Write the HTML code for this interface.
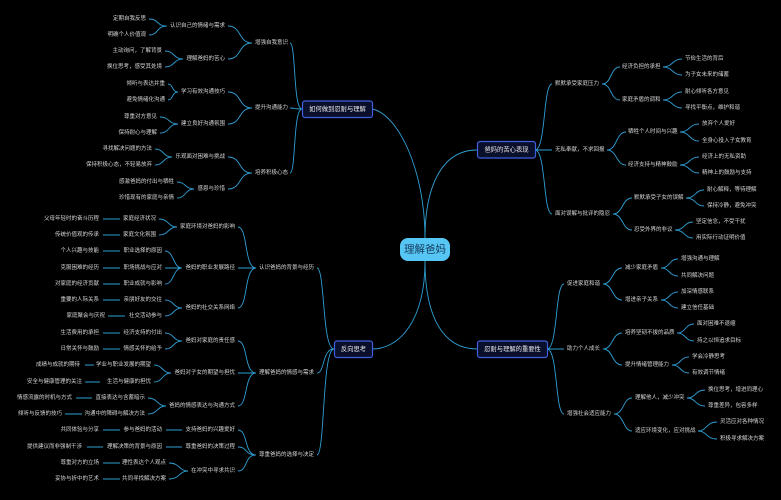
<!DOCTYPE html>
<html><head><meta charset="utf-8"><style>
html,body{margin:0;padding:0;background:#000;}
svg{display:block;}
text{font-family:"Liberation Sans","Noto Sans CJK SC",sans-serif;fill:#d6d6d6;font-size:5.5px;dominant-baseline:central;}
.e{text-anchor:end}
.m{font-size:6.3px;fill:#e8e8e8;text-anchor:middle}
path{fill:none;stroke:#2f9fd4;stroke-width:0.9}
</style></head><body>
<svg width="781" height="500" viewBox="0 0 781 500" xmlns="http://www.w3.org/2000/svg">
<rect width="781" height="500" fill="#000"/>
<!-- central connectors -->
<path d="M372,109 C398,114 425,170 425,238" stroke-width="1.1"/>
<path d="M425,238 C425,190 440,150 477,150" stroke-width="1.1"/>
<path d="M425,261 C425,320 445,349 477,349" stroke-width="1.1"/>
<path d="M425,261 C425,320 400,349 372,349" stroke-width="1.1"/>

<!-- LEFT TOP -->
<path d="M302,109 C293,109 296,43 290,43 M302,109 C293,109 296,108 290,108 M302,109 C293,109 296,173 290,173"/>
<text class="e" x="288" y="43">增强自我意识</text>
<text class="e" x="288" y="108">提升沟通能力</text>
<text class="e" x="288" y="173">培养积极心态</text>
<path d="M252,43 C238,43 242,26 228,26 M252,43 C238,43 242,59 228,59 M252,108 C238,108 242,92 228,92 M252,108 C238,108 242,124 228,124 M252,173 C238,173 242,157 228,157 M252,173 C238,173 242,189 228,189"/>
<text class="e" x="225" y="26">认识自己的情绪与需求</text>
<text class="e" x="225" y="59">理解爸妈的苦心</text>
<text class="e" x="225" y="92">学习有效沟通技巧</text>
<text class="e" x="225" y="124">建立良好沟通氛围</text>
<text class="e" x="225" y="157">乐观面对困难与挑战</text>
<text class="e" x="225" y="189">感恩与珍惜</text>
<path d="M167,26 C156,26 159,19 149,19 M167,26 C156,26 159,35 149,35 M183,59 C173,59 175,51 165,51 M183,59 C173,59 175,67 165,67 M178,92 C172,92 173,84 168,84 M178,92 C172,92 173,100 168,100 M178,124 C168,124 170,117 160,117 M178,124 C168,124 170,133 160,133 M172,157 C163,157 164,149 155,149 M172,157 C163,157 164,165 155,165 M194,189 C185,189 186,182 177,182 M194,189 C185,189 186,198 177,198"/>
<text class="e" x="146" y="19">定期自我反思</text>
<text class="e" x="146" y="35">明确个人价值观</text>
<text class="e" x="162" y="51">主动询问，了解背景</text>
<text class="e" x="162" y="67">换位思考，感受其处境</text>
<text class="e" x="165" y="84">倾听与表达并重</text>
<text class="e" x="165" y="100">避免情绪化沟通</text>
<text class="e" x="157" y="117">尊重对方意见</text>
<text class="e" x="157" y="133">保持耐心与理解</text>
<text class="e" x="152" y="149">寻找解决问题的方法</text>
<text class="e" x="152" y="165">保持积极心态，不轻易放弃</text>
<text class="e" x="174" y="182">感激爸妈的付出与牺牲</text>
<text class="e" x="174" y="198">珍惜现有的家庭与亲情</text>

<!-- LEFT BOTTOM -->
<path d="M334,349 C322,349 325,268 317,268 M334,349 C322,349 325,373 317,373 M334,349 C322,349 325,455 317,455"/>
<text class="e" x="314" y="268">认识爸妈的背景与经历</text>
<text class="e" x="314" y="373">理解爸妈的情感与需求</text>
<text class="e" x="314" y="455">尊重爸妈的选择与决定</text>
<path d="M256,268 C244,268 248,227 238,227 M256,268 C244,268 248,268 238,268 M256,268 C244,268 248,308 238,308 M256,373 C244,373 248,341 238,341 M256,373 C244,373 248,373 238,373 M256,373 C244,373 248,406 238,406 M256,455 C244,455 248,430 238,430 M256,455 C244,455 248,447 238,447 M256,455 C244,455 248,471 238,471"/>
<text class="e" x="235" y="227">家庭环境对爸妈的影响</text>
<text class="e" x="235" y="268">爸妈的职业发展路径</text>
<text class="e" x="235" y="308">爸妈的社交关系网络</text>
<text class="e" x="235" y="341">爸妈对家庭的责任感</text>
<text class="e" x="235" y="373">爸妈对子女的期望与担忧</text>
<text class="e" x="235" y="406">爸妈的情感表达与沟通方式</text>
<text class="e" x="235" y="430">支持爸妈的兴趣爱好</text>
<text class="e" x="235" y="447">尊重爸妈的决策过程</text>
<text class="e" x="235" y="471">在冲突中寻求共识</text>
<path d="M177,227 C168,227 169,219 159,219 M177,227 C168,227 169,235 159,235 M182,268 C173,268 174,251 165,251 M182,268 L165,268 M182,268 C173,268 174,284 165,284 M182,308 C173,308 174,300 165,300 M182,308 C173,308 174,316 165,316 M182,341 C173,341 174,333 165,333 M182,341 C173,341 174,349 165,349 M171,373 C162,373 163,365 154,365 M171,373 C162,373 163,382 154,382 M166,406 C157,406 158,398 148,398 M166,406 C157,406 158,414 148,414 M182,430 L166,430 M182,447 L166,447 M188,471 C179,471 180,463 169,463 M188,471 C179,471 180,479 169,479"/>
<text class="e" x="156" y="219">家庭经济状况</text>
<text class="e" x="156" y="235">家庭文化氛围</text>
<text class="e" x="162" y="251">职业选择的原因</text>
<text class="e" x="162" y="268">职场挑战与应对</text>
<text class="e" x="162" y="284">职业成就与影响</text>
<text class="e" x="162" y="300">亲朋好友的交往</text>
<text class="e" x="162" y="316">社交活动参与</text>
<text class="e" x="162" y="333">经济支持的付出</text>
<text class="e" x="162" y="349">情感关怀的给予</text>
<text class="e" x="151" y="365">学业与职业发展的期望</text>
<text class="e" x="151" y="382">生活与健康的担忧</text>
<text class="e" x="145" y="398">直接表达与含蓄暗示</text>
<text class="e" x="145" y="414">沟通中的障碍与解决方法</text>
<text class="e" x="162" y="430">参与爸妈的活动</text>
<text class="e" x="162" y="447">理解决策的背景与原因</text>
<text class="e" x="166" y="463">理性表达个人观点</text>
<text class="e" x="166" y="479">共同寻找解决方案</text>
<path d="M103,219 L120,219 M103,235 L120,235 M103,251 L120,251 M103,268 L120,268 M103,284 L120,284 M103,300 L120,300 M108,316 L125,316 M103,333 L120,333 M103,349 L120,349 M85,365 L94,365 M85,382 L100,382 M76,398 L92,398 M65,414 L82,414 M103,430 L120,430 M87,447 L103,447 M103,463 L120,463 M103,479 L120,479"/>
<text class="e" x="99" y="219">父母年轻时的奋斗历程</text>
<text class="e" x="99" y="235">传统价值观的传承</text>
<text class="e" x="99" y="251">个人兴趣与技能</text>
<text class="e" x="99" y="268">克服困难的经历</text>
<text class="e" x="99" y="284">对家庭的经济贡献</text>
<text class="e" x="99" y="300">重要的人际关系</text>
<text class="e" x="105" y="316">家庭聚会与庆祝</text>
<text class="e" x="99" y="333">生活费用的承担</text>
<text class="e" x="99" y="349">日常关怀与鼓励</text>
<text class="e" x="80" y="365">成绩与成就的期待</text>
<text class="e" x="82" y="382">安全与健康管理的关注</text>
<text class="e" x="72" y="398">情感流露的时机与方式</text>
<text class="e" x="62" y="414">倾听与反馈的技巧</text>
<text class="e" x="99" y="430">共同体验与分享</text>
<text class="e" x="82" y="447">提供建议而非强制干涉</text>
<text class="e" x="99" y="463">尊重对方的立场</text>
<text class="e" x="99" y="479">妥协与折中的艺术</text>

<!-- RIGHT TOP -->
<path d="M535,150 C546,150 543,84 552,84 M535,150 L552,150 M535,150 C546,150 543,214 552,214"/>
<text x="555" y="84">默默承受家庭压力</text>
<text x="555" y="150">无私奉献，不求回报</text>
<text x="555" y="214">面对误解与批评的隐忍</text>
<path d="M602,84 C612,84 610,67 620,67 M602,84 C612,84 610,100 620,100 M607,150 C617,150 616,132 626,132 M607,150 C617,150 616,165 626,165 M613,214 C623,214 622,198 632,198 M613,214 C623,214 622,230 632,230"/>
<text x="622" y="67">经济负担的承担</text>
<text x="622" y="100">家庭矛盾的调和</text>
<text x="628" y="132">牺牲个人时间与兴趣</text>
<text x="628" y="165">经济支持与精神鼓励</text>
<text x="634" y="198">默默承受子女的误解</text>
<text x="634" y="230">忍受外界的非议</text>
<path d="M663,67 C673,67 672,59 682,59 M663,67 C673,67 672,75 682,75 M663,100 C673,100 672,92 682,92 M663,100 C673,100 672,108 682,108 M680,132 C690,132 689,124 699,124 M680,132 C690,132 689,141 699,141 M680,165 C690,165 689,157 699,157 M680,165 C690,165 689,173 699,173 M686,198 C696,198 695,190 704,190 M686,198 C696,198 695,206 704,206 M675,230 C685,230 684,222 693,222 M675,230 C685,230 684,238 693,238"/>
<text x="685" y="59">节俭生活的背后</text>
<text x="685" y="75">为子女未来的储蓄</text>
<text x="685" y="92">耐心倾听各方意见</text>
<text x="685" y="108">寻找平衡点，维护和谐</text>
<text x="702" y="124">放弃个人爱好</text>
<text x="702" y="141">全身心投入子女教育</text>
<text x="702" y="157">经济上的无私资助</text>
<text x="702" y="173">精神上的鼓励与支持</text>
<text x="707" y="190">耐心解释，等待理解</text>
<text x="707" y="206">保持冷静，避免冲突</text>
<text x="696" y="222">坚定信念，不受干扰</text>
<text x="696" y="238">用实际行动证明价值</text>

<!-- RIGHT BOTTOM -->
<path d="M547,349 C558,349 555,284 564,284 M547,349 L564,349 M547,349 C558,349 555,414 564,414"/>
<text x="567" y="284">促进家庭和谐</text>
<text x="567" y="349">助力个人成长</text>
<text x="567" y="414">增强社会适应能力</text>
<path d="M603,284 C613,284 612,268 622,268 M603,284 C613,284 612,300 622,300 M603,349 C613,349 612,333 622,333 M603,349 C613,349 612,365 622,365 M614,414 C624,414 623,398 632,398 M614,414 C624,414 623,431 632,431"/>
<text x="625" y="268">减少家庭矛盾</text>
<text x="625" y="300">增进亲子关系</text>
<text x="625" y="333">培养坚韧不拔的品质</text>
<text x="625" y="365">提升情绪管理能力</text>
<text x="635" y="398">理解他人，减少冲突</text>
<text x="635" y="431">适应环境变化，应对挑战</text>
<path d="M661,268 C670,268 669,259 678,259 M661,268 C670,268 669,276 678,276 M661,300 C670,300 669,292 678,292 M661,300 C670,300 669,308 678,308 M677,333 C686,333 685,324 694,324 M677,333 C686,333 685,341 694,341 M672,365 C681,365 680,357 689,357 M672,365 C681,365 680,373 689,373 M687,398 C696,398 695,390 705,390 M687,398 C696,398 695,406 705,406 M698,431 C707,431 706,422 717,422 M698,431 C707,431 706,439 717,439"/>
<text x="681" y="259">增强沟通与理解</text>
<text x="681" y="276">共同解决问题</text>
<text x="681" y="292">加深情感联系</text>
<text x="681" y="308">建立信任基础</text>
<text x="697" y="324">面对困难不退缩</text>
<text x="697" y="341">持之以恒追求目标</text>
<text x="692" y="357">学会冷静思考</text>
<text x="692" y="373">有效调节情绪</text>
<text x="708" y="390">换位思考，增进同理心</text>
<text x="708" y="406">尊重差异，包容多样</text>
<text x="720" y="422">灵活应对各种情况</text>
<text x="720" y="439">积极寻求解决方案</text>

<!-- main nodes -->
<rect x="302.5" y="101" width="70" height="16.5" rx="2.5" fill="#0a0f2c" stroke="#3f5fe0" stroke-width="1.2"/>
<text class="m" x="337.5" y="109.5">如何做到忍耐与理解</text>
<rect x="477.5" y="141.5" width="58" height="16.5" rx="2.5" fill="#0a0f2c" stroke="#3f5fe0" stroke-width="1.2"/>
<text class="m" x="506.5" y="150">爸妈的苦心表现</text>
<rect x="334.5" y="341" width="38" height="16.5" rx="2.5" fill="#0a0f2c" stroke="#3f5fe0" stroke-width="1.2"/>
<text class="m" x="353.5" y="349.5">反向思考</text>
<rect x="477.5" y="341" width="70" height="16.5" rx="2.5" fill="#0a0f2c" stroke="#3f5fe0" stroke-width="1.2"/>
<text class="m" x="512.5" y="349.5">忍耐与理解的重要性</text>
<rect x="400" y="238" width="50" height="23" rx="8" fill="#56c6f4"/>
<text x="425" y="249.5" style="font-size:10.5px;fill:#143a5c;text-anchor:middle">理解爸妈</text>
</svg>
</body></html>
